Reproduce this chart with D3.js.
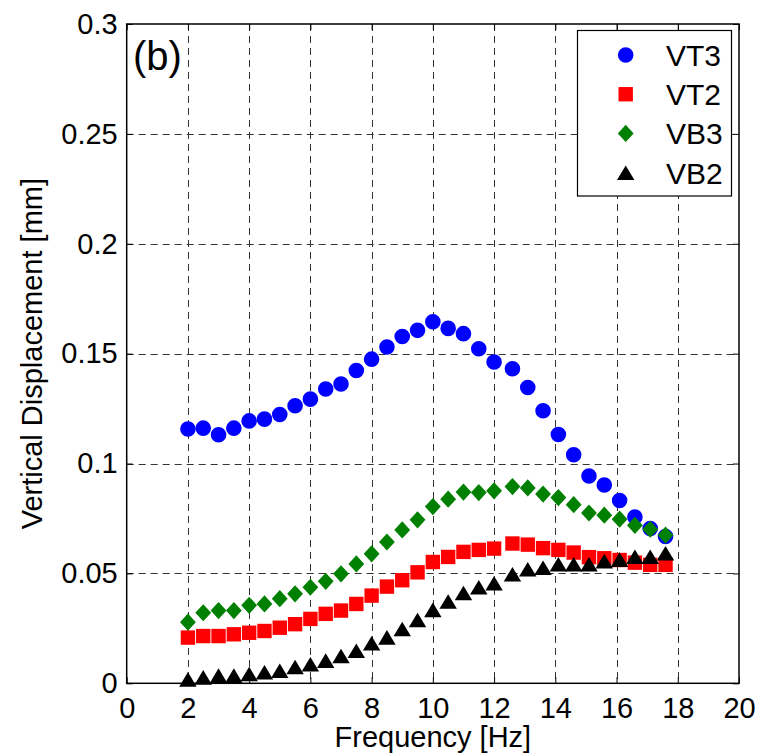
<!DOCTYPE html>
<html>
<head>
<meta charset="utf-8">
<script src="https://cdn.jsdelivr.net/npm/d3@7"></script>
<style>
  body { margin: 0; background: #fff; }
  svg text { font-family: "Liberation Sans", Arial, sans-serif; fill: #000; }
</style>
</head>
<body>
<div id="chart"></div>
<script>
// frequencies [Hz]
const freq = [2, 2.5, 3, 3.5, 4, 4.5, 5, 5.5, 6, 6.5, 7, 7.5, 8, 8.5, 9, 9.5,
  10, 10.5, 11, 11.5, 12, 12.6, 13.1, 13.6, 14.1, 14.6, 15.1, 15.6, 16.1, 16.6, 17.1, 17.6]

// vertical displacement [mm]
const vt3 = [0.1157, 0.1161, 0.1131, 0.1161, 0.1194, 0.1202, 0.1223, 0.1263, 0.1293, 0.1339, 0.1362,
  0.1423, 0.1475, 0.1530, 0.1578, 0.1606, 0.1645, 0.1615, 0.1591, 0.1522, 0.1462, 0.1431, 0.1346,
  0.1240, 0.1132, 0.1040, 0.0943, 0.0902, 0.0832, 0.0757, 0.0704, 0.0668]
const vt2 = [0.0208, 0.0215, 0.0215, 0.0223, 0.0230, 0.0238, 0.0253, 0.0269, 0.0293, 0.0316, 0.0331,
  0.0361, 0.0399, 0.0440, 0.0469, 0.0505, 0.0552, 0.0575, 0.0598, 0.0607, 0.0613, 0.0636, 0.0631,
  0.0615, 0.0607, 0.0595, 0.0574, 0.0569, 0.0561, 0.0549, 0.0539, 0.0539]
const vb3 = [0.0278, 0.0321, 0.0331, 0.0331, 0.0355, 0.0361, 0.0385, 0.0407, 0.0437, 0.0464, 0.0498,
  0.0543, 0.0589, 0.0643, 0.0698, 0.0744, 0.0804, 0.0838, 0.0870, 0.0868, 0.0876, 0.0895, 0.0889,
  0.0861, 0.0845, 0.0813, 0.0775, 0.0765, 0.0747, 0.0719, 0.0701, 0.0674]
const vb2 = [0.0018, 0.0027, 0.0035, 0.0035, 0.0042, 0.0050, 0.0057, 0.0074, 0.0087, 0.0103, 0.0124,
  0.0148, 0.0182, 0.0209, 0.0247, 0.0288, 0.0334, 0.0372, 0.0411, 0.0437, 0.0455, 0.0496, 0.0519,
  0.0526, 0.0542, 0.0542, 0.0542, 0.0556, 0.0563, 0.0576, 0.0576, 0.0592]

const seriesNames = ['VT3', 'VT2', 'VB3', 'VB2']
const seriesValues = [vt3, vt2, vb3, vb2]

const xTicks = [0, 2, 4, 6, 8, 10, 12, 14, 16, 18, 20]
const yTicks = [0, 0.05, 0.1, 0.15, 0.2, 0.25, 0.3]

const W = 763, H = 756
const pl = 126.7, pr = 739, pt = 24, pb = 683.3

const x = d3.scaleLinear().domain([0, 20]).range([pl, pr])
const y = d3.scaleLinear().domain([0, 0.3]).range([pb, pt])

// marker shapes like matlab's o, s, d, ^
const shapes = {
  circle: r => `M${r},0A${r},${r},0,1,1,${-r},0A${r},${r},0,1,1,${r},0Z`,
  square: r => `M${-r},${-r}H${r}V${r}H${-r}Z`,
  diamond: r => `M0,${-r}L${r * 0.92},0L0,${r}L${-r * 0.92},0Z`,
  triangle: r => `M0,${-r * 0.88}L${r * 1.05},${r * 0.88}L${-r * 1.05},${r * 0.88}Z`
}
const styles = [
  { shape: 'circle', r: 7.8, color: '#0000ff' },
  { shape: 'square', r: 7.2, color: '#ff0000' },
  { shape: 'diamond', r: 8.6, color: '#008000' },
  { shape: 'triangle', r: 8.3, color: '#000000' }
]

const svg = d3.select('#chart').append('svg')
  .attr('width', W).attr('height', H)

// grid
const grid = svg.append('g')
grid.selectAll('.vg').data(xTicks.slice(1, -1)).enter().append('line')
  .attr('x1', d => Math.round(x(d)) + 0.5).attr('x2', d => Math.round(x(d)) + 0.5)
  .attr('y1', pt).attr('y2', pb)
  .style('stroke', '#333').style('stroke-width', 1).style('stroke-dasharray', '7,5')
grid.selectAll('.hg').data(yTicks.slice(1, -1)).enter().append('line')
  .attr('y1', d => Math.round(y(d)) + 0.5).attr('y2', d => Math.round(y(d)) + 0.5)
  .attr('x1', pl).attr('x2', pr)
  .style('stroke', '#333').style('stroke-width', 1).style('stroke-dasharray', '7,5')

// data markers
const marks = svg.append('g')
seriesValues.forEach((vals, i) => {
  const st = styles[i]
  marks.append('g').selectAll('path')
    .data(vals.map((v, j) => ({ f: freq[j], v: v })))
    .enter().append('path')
    .attr('transform', d => `translate(${x(d.f)},${y(d.v)})`)
    .attr('d', shapes[st.shape](st.r))
    .style('fill', st.color)
    .style('stroke', 'none')
})

// box and ticks
svg.append('rect')
  .attr('x', pl).attr('y', pt)
  .attr('width', pr - pl).attr('height', pb - pt)
  .style('fill', 'none').style('stroke', '#000').style('stroke-width', 1.5)

const xAxis = d3.axisBottom(x).tickValues(xTicks).tickSize(-6).tickPadding(14).tickFormat(d3.format('d'))
const yAxis = d3.axisLeft(y).tickValues(yTicks).tickSize(-6).tickPadding(9).tickFormat(d => d === 0 ? '0' : String(d))

const gx = svg.append('g').attr('transform', `translate(0,${pb})`).call(xAxis)
const gy = svg.append('g').attr('transform', `translate(${pl},0)`).call(yAxis)
svg.append('g').attr('transform', `translate(0,${pt})`)
  .call(d3.axisTop(x).tickValues(xTicks).tickSize(-6).tickFormat(''))
svg.append('g').attr('transform', `translate(${pr},0)`)
  .call(d3.axisRight(y).tickValues(yTicks).tickSize(-6).tickFormat(''))

svg.selectAll('.domain').remove()
svg.selectAll('.tick line').style('stroke', '#000')
gx.selectAll('text').style('font-size', '29px').style('font-family', '"Liberation Sans", Arial, sans-serif')
gy.selectAll('text').style('font-size', '29px').style('font-family', '"Liberation Sans", Arial, sans-serif')

// axis titles
svg.append('text')
  .attr('x', (pl + pr) / 2).attr('y', 747)
  .attr('text-anchor', 'middle')
  .style('font-size', '29px')
  .text('Frequency [Hz]')
svg.append('text')
  .attr('transform', `translate(42,${(pt + pb) / 2}) rotate(-90)`)
  .attr('text-anchor', 'middle')
  .style('font-size', '29px')
  .text('Vertical Displacement [mm]')

// panel label
svg.append('text')
  .attr('x', 133).attr('y', 70)
  .style('font-size', '40px')
  .text('(b)')

// legend
const lg = svg.append('g')
lg.append('rect')
  .attr('x', 577.5).attr('y', 30.5).attr('width', 154).attr('height', 165.5)
  .style('fill', '#fff').style('stroke', '#000').style('stroke-width', 1.2)
const rowY = d3.scalePoint().domain(seriesNames).range([55, 172.7])
seriesNames.forEach((name, i) => {
  const st = styles[i]
  lg.append('path')
    .attr('transform', `translate(625.7,${rowY(name)})`)
    .attr('d', shapes[st.shape](st.r))
    .style('fill', st.color)
  lg.append('text')
    .attr('x', 666).attr('y', rowY(name))
    .attr('dy', '0.36em')
    .style('font-size', '30px')
    .text(name)
})
</script>
</body>
</html>
